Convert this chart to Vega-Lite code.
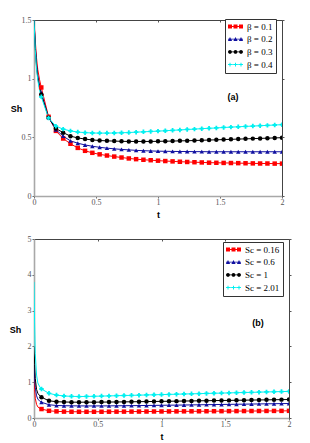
{
  "$schema": "https://vega.github.io/schema/vega-lite/v6.json",
  "background": "white",
  "padding": {"left": 9, "top": 16, "right": 5, "bottom": 2},
  "spacing": 16,
  "config": {
    "view": {"stroke": null},
    "axisBottom": {"domainColor": "#a8a8a8", "domainWidth": 1.6, "tickColor": "#666", "tickSize": 2, "labelFont": "Liberation Serif", "labelFontSize": 8, "labelColor": "#555", "labelPadding": 0, "grid": false, "labelFlush": false, "labelOverlap": false, "titleFont": "Liberation Sans", "titleFontSize": 9, "titleFontWeight": "bold", "titleColor": "#000", "titlePadding": 4, "format": "~g"},
    "axisLeft": {"domainColor": "#a8a8a8", "domainWidth": 1.6, "tickColor": "#666", "tickSize": 2, "labelFont": "Liberation Serif", "labelFontSize": 8, "labelColor": "#555", "labelPadding": 1, "grid": false, "labelFlush": false, "labelOverlap": false, "titleFont": "Liberation Sans", "titleFontSize": 9, "titleFontWeight": "bold", "titleColor": "#000", "titleAngle": 0, "titleAlign": "center", "titleBaseline": "middle", "format": "~g"},
    "axisTop": {"labels": false, "domainColor": "#444", "domainWidth": 1, "tickColor": "#555", "tickSize": -2, "grid": false},
    "axisRight": {"labels": false, "domainColor": "#444", "domainWidth": 1, "tickColor": "#555", "tickSize": 2, "grid": false},
    "legend": {"disable": true, "orient": "none", "padding": 3, "strokeColor": "#333", "fillColor": "#fff", "labelFont": "Liberation Serif", "labelFontSize": 9, "labelColor": "#000", "symbolSize": 4, "labelOffset": 10, "rowPadding": 2.7, "symbolStrokeWidth": 0, "symbolOpacity": 1}
  },
  "resolve": {"scale": {"color": "independent", "shape": "independent", "stroke": "independent"}, "legend": {"color": "independent", "shape": "independent", "stroke": "independent"}},
  "vconcat": [
    {
      "width": 248,
      "height": 176,
      "data": {"values": [
        {"t":0,"Sh":1.5,"s":"β = 0.1"},{"t":0.01,"Sh":1.33,"s":"β = 0.1"},{"t":0.02,"Sh":1.18,"s":"β = 0.1"},{"t":0.03,"Sh":1.08,"s":"β = 0.1"},{"t":0.045,"Sh":0.99,"s":"β = 0.1"},
        {"t":0.0588,"Sh":0.925,"s":"β = 0.1"},{"t":0.1176,"Sh":0.675,"s":"β = 0.1"},{"t":0.1765,"Sh":0.555,"s":"β = 0.1"},{"t":0.2353,"Sh":0.49,"s":"β = 0.1"},{"t":0.2941,"Sh":0.445,"s":"β = 0.1"},{"t":0.3529,"Sh":0.41,"s":"β = 0.1"},{"t":0.4118,"Sh":0.385,"s":"β = 0.1"},{"t":0.4706,"Sh":0.368,"s":"β = 0.1"},{"t":0.5294,"Sh":0.355,"s":"β = 0.1"},{"t":0.5882,"Sh":0.345,"s":"β = 0.1"},{"t":0.6471,"Sh":0.336,"s":"β = 0.1"},{"t":0.7059,"Sh":0.328,"s":"β = 0.1"},{"t":0.7647,"Sh":0.32,"s":"β = 0.1"},{"t":0.8235,"Sh":0.314,"s":"β = 0.1"},{"t":0.8824,"Sh":0.309,"s":"β = 0.1"},{"t":0.9412,"Sh":0.305,"s":"β = 0.1"},{"t":1,"Sh":0.301,"s":"β = 0.1"},{"t":1.0588,"Sh":0.298,"s":"β = 0.1"},{"t":1.1176,"Sh":0.295,"s":"β = 0.1"},{"t":1.1765,"Sh":0.292,"s":"β = 0.1"},{"t":1.2353,"Sh":0.29,"s":"β = 0.1"},{"t":1.2941,"Sh":0.288,"s":"β = 0.1"},{"t":1.3529,"Sh":0.286,"s":"β = 0.1"},{"t":1.4118,"Sh":0.284,"s":"β = 0.1"},{"t":1.4706,"Sh":0.283,"s":"β = 0.1"},{"t":1.5294,"Sh":0.282,"s":"β = 0.1"},{"t":1.5882,"Sh":0.281,"s":"β = 0.1"},{"t":1.6471,"Sh":0.28,"s":"β = 0.1"},{"t":1.7059,"Sh":0.279,"s":"β = 0.1"},{"t":1.7647,"Sh":0.278,"s":"β = 0.1"},{"t":1.8235,"Sh":0.277,"s":"β = 0.1"},{"t":1.8824,"Sh":0.277,"s":"β = 0.1"},{"t":1.9412,"Sh":0.276,"s":"β = 0.1"},{"t":2,"Sh":0.276,"s":"β = 0.1"},
        {"t":0,"Sh":1.5,"s":"β = 0.2"},{"t":0.01,"Sh":1.29,"s":"β = 0.2"},{"t":0.02,"Sh":1.13,"s":"β = 0.2"},{"t":0.03,"Sh":1.03,"s":"β = 0.2"},{"t":0.045,"Sh":0.94,"s":"β = 0.2"},
        {"t":0.0588,"Sh":0.88,"s":"β = 0.2"},{"t":0.1176,"Sh":0.67,"s":"β = 0.2"},{"t":0.1765,"Sh":0.565,"s":"β = 0.2"},{"t":0.2353,"Sh":0.51,"s":"β = 0.2"},{"t":0.2941,"Sh":0.47,"s":"β = 0.2"},{"t":0.3529,"Sh":0.45,"s":"β = 0.2"},{"t":0.4118,"Sh":0.435,"s":"β = 0.2"},{"t":0.4706,"Sh":0.424,"s":"β = 0.2"},{"t":0.5294,"Sh":0.415,"s":"β = 0.2"},{"t":0.5882,"Sh":0.408,"s":"β = 0.2"},{"t":0.6471,"Sh":0.402,"s":"β = 0.2"},{"t":0.7059,"Sh":0.397,"s":"β = 0.2"},{"t":0.7647,"Sh":0.393,"s":"β = 0.2"},{"t":0.8235,"Sh":0.389,"s":"β = 0.2"},{"t":0.8824,"Sh":0.386,"s":"β = 0.2"},{"t":0.9412,"Sh":0.384,"s":"β = 0.2"},{"t":1,"Sh":0.382,"s":"β = 0.2"},{"t":1.0588,"Sh":0.381,"s":"β = 0.2"},{"t":1.1176,"Sh":0.38,"s":"β = 0.2"},{"t":1.1765,"Sh":0.379,"s":"β = 0.2"},{"t":1.2353,"Sh":0.379,"s":"β = 0.2"},{"t":1.2941,"Sh":0.378,"s":"β = 0.2"},{"t":1.3529,"Sh":0.378,"s":"β = 0.2"},{"t":1.4118,"Sh":0.377,"s":"β = 0.2"},{"t":1.4706,"Sh":0.377,"s":"β = 0.2"},{"t":1.5294,"Sh":0.377,"s":"β = 0.2"},{"t":1.5882,"Sh":0.377,"s":"β = 0.2"},{"t":1.6471,"Sh":0.377,"s":"β = 0.2"},{"t":1.7059,"Sh":0.377,"s":"β = 0.2"},{"t":1.7647,"Sh":0.377,"s":"β = 0.2"},{"t":1.8235,"Sh":0.377,"s":"β = 0.2"},{"t":1.8824,"Sh":0.377,"s":"β = 0.2"},{"t":1.9412,"Sh":0.377,"s":"β = 0.2"},{"t":2,"Sh":0.377,"s":"β = 0.2"},
        {"t":0,"Sh":1.5,"s":"β = 0.3"},{"t":0.01,"Sh":1.27,"s":"β = 0.3"},{"t":0.02,"Sh":1.11,"s":"β = 0.3"},{"t":0.03,"Sh":1.01,"s":"β = 0.3"},{"t":0.045,"Sh":0.92,"s":"β = 0.3"},
        {"t":0.0588,"Sh":0.865,"s":"β = 0.3"},{"t":0.1176,"Sh":0.668,"s":"β = 0.3"},{"t":0.1765,"Sh":0.575,"s":"β = 0.3"},{"t":0.2353,"Sh":0.54,"s":"β = 0.3"},{"t":0.2941,"Sh":0.51,"s":"β = 0.3"},{"t":0.3529,"Sh":0.495,"s":"β = 0.3"},{"t":0.4118,"Sh":0.485,"s":"β = 0.3"},{"t":0.4706,"Sh":0.478,"s":"β = 0.3"},{"t":0.5294,"Sh":0.473,"s":"β = 0.3"},{"t":0.5882,"Sh":0.47,"s":"β = 0.3"},{"t":0.6471,"Sh":0.468,"s":"β = 0.3"},{"t":0.7059,"Sh":0.466,"s":"β = 0.3"},{"t":0.7647,"Sh":0.465,"s":"β = 0.3"},{"t":0.8235,"Sh":0.465,"s":"β = 0.3"},{"t":0.8824,"Sh":0.465,"s":"β = 0.3"},{"t":0.9412,"Sh":0.465,"s":"β = 0.3"},{"t":1,"Sh":0.466,"s":"β = 0.3"},{"t":1.0588,"Sh":0.467,"s":"β = 0.3"},{"t":1.1176,"Sh":0.468,"s":"β = 0.3"},{"t":1.1765,"Sh":0.47,"s":"β = 0.3"},{"t":1.2353,"Sh":0.471,"s":"β = 0.3"},{"t":1.2941,"Sh":0.473,"s":"β = 0.3"},{"t":1.3529,"Sh":0.475,"s":"β = 0.3"},{"t":1.4118,"Sh":0.477,"s":"β = 0.3"},{"t":1.4706,"Sh":0.479,"s":"β = 0.3"},{"t":1.5294,"Sh":0.481,"s":"β = 0.3"},{"t":1.5882,"Sh":0.483,"s":"β = 0.3"},{"t":1.6471,"Sh":0.485,"s":"β = 0.3"},{"t":1.7059,"Sh":0.487,"s":"β = 0.3"},{"t":1.7647,"Sh":0.489,"s":"β = 0.3"},{"t":1.8235,"Sh":0.491,"s":"β = 0.3"},{"t":1.8824,"Sh":0.493,"s":"β = 0.3"},{"t":1.9412,"Sh":0.495,"s":"β = 0.3"},{"t":2,"Sh":0.497,"s":"β = 0.3"},
        {"t":0,"Sh":1.5,"s":"β = 0.4"},{"t":0.01,"Sh":1.25,"s":"β = 0.4"},{"t":0.02,"Sh":1.09,"s":"β = 0.4"},{"t":0.03,"Sh":0.99,"s":"β = 0.4"},{"t":0.045,"Sh":0.9,"s":"β = 0.4"},
        {"t":0.0588,"Sh":0.845,"s":"β = 0.4"},{"t":0.1176,"Sh":0.665,"s":"β = 0.4"},{"t":0.1765,"Sh":0.595,"s":"β = 0.4"},{"t":0.2353,"Sh":0.57,"s":"β = 0.4"},{"t":0.2941,"Sh":0.555,"s":"β = 0.4"},{"t":0.3529,"Sh":0.545,"s":"β = 0.4"},{"t":0.4118,"Sh":0.54,"s":"β = 0.4"},{"t":0.4706,"Sh":0.537,"s":"β = 0.4"},{"t":0.5294,"Sh":0.536,"s":"β = 0.4"},{"t":0.5882,"Sh":0.536,"s":"β = 0.4"},{"t":0.6471,"Sh":0.537,"s":"β = 0.4"},{"t":0.7059,"Sh":0.539,"s":"β = 0.4"},{"t":0.7647,"Sh":0.541,"s":"β = 0.4"},{"t":0.8235,"Sh":0.544,"s":"β = 0.4"},{"t":0.8824,"Sh":0.547,"s":"β = 0.4"},{"t":0.9412,"Sh":0.55,"s":"β = 0.4"},{"t":1,"Sh":0.553,"s":"β = 0.4"},{"t":1.0588,"Sh":0.556,"s":"β = 0.4"},{"t":1.1176,"Sh":0.56,"s":"β = 0.4"},{"t":1.1765,"Sh":0.563,"s":"β = 0.4"},{"t":1.2353,"Sh":0.567,"s":"β = 0.4"},{"t":1.2941,"Sh":0.57,"s":"β = 0.4"},{"t":1.3529,"Sh":0.574,"s":"β = 0.4"},{"t":1.4118,"Sh":0.577,"s":"β = 0.4"},{"t":1.4706,"Sh":0.58,"s":"β = 0.4"},{"t":1.5294,"Sh":0.584,"s":"β = 0.4"},{"t":1.5882,"Sh":0.587,"s":"β = 0.4"},{"t":1.6471,"Sh":0.59,"s":"β = 0.4"},{"t":1.7059,"Sh":0.593,"s":"β = 0.4"},{"t":1.7647,"Sh":0.596,"s":"β = 0.4"},{"t":1.8235,"Sh":0.599,"s":"β = 0.4"},{"t":1.8824,"Sh":0.602,"s":"β = 0.4"},{"t":1.9412,"Sh":0.605,"s":"β = 0.4"},{"t":2,"Sh":0.608,"s":"β = 0.4"}
      ]},
      "resolve": {"axis": {"x": "independent", "y": "independent"}},
      "layer": [
        {
          "mark": {"type": "line", "strokeWidth": 1, "clip": true},
          "encoding": {
            "x": {"field": "t", "type": "quantitative", "scale": {"domain": [0, 2], "nice": false}, "axis": {"orient": "bottom", "values": [0, 0.5, 1, 1.5, 2], "title": "t"}},
            "y": {"field": "Sh", "type": "quantitative", "scale": {"domain": [0, 1.5], "nice": false}, "axis": {"orient": "left", "values": [0, 0.5, 1, 1.5], "title": "Sh", "titleX": -18, "titleY": 88}},
            "stroke": {"field": "s", "type": "nominal", "scale": {"domain": ["β = 0.1", "β = 0.2", "β = 0.3", "β = 0.4"], "range": ["#ff0000", "#1010a0", "#000000", "#00f0f0"]}}
          }
        },
        {
          "transform": [{"filter": "datum.t > 0.05"}],
          "mark": {"type": "point", "filled": true, "opacity": 1, "size": 20, "clip": true},
          "encoding": {
            "x": {"field": "t", "type": "quantitative", "axis": {"orient": "top", "values": [0, 0.5, 1, 1.5, 2], "title": null}},
            "y": {"field": "Sh", "type": "quantitative", "axis": {"orient": "right", "values": [0, 0.5, 1, 1.5], "title": null}},
            "color": {"field": "s", "type": "nominal", "scale": {"range": ["#ff0000", "#1010a0", "#000000", "#00f0f0"]}, "legend": {"title": null, "legendX": 191, "legendY": -1, "encode": {"symbols": {"update": {"shape": {"signal": "['M-4.5,-0.4H10.5V0.4H-4.5Z M-4.5,-2h4v4h-4Z M1,-2h4v4h-4Z M6.5,-2h4v4h-4Z','M-4.5,-0.4H10.5V0.4H-4.5Z M-2.5,-2.3L-0.4,1.7H-4.6Z M3,-2.3L5.1,1.7H0.9Z M8.5,-2.3L10.6,1.7H6.4Z','M-4.5,-0.4H10.5V0.4H-4.5Z M-4.4,0a1.9,1.9 0 1,1 3.8,0a1.9,1.9 0 1,1 -3.8,0Z M1.1,0a1.9,1.9 0 1,1 3.8,0a1.9,1.9 0 1,1 -3.8,0Z M6.6,0a1.9,1.9 0 1,1 3.8,0a1.9,1.9 0 1,1 -3.8,0Z','M-4.5,-0.4H10.5V0.4H-4.5Z M-4.3,-0.5h3.6v1h-3.6Z M-3,-1.8h1v3.6h-1Z M1.2,-0.5h3.6v1h-3.6Z M2.5,-1.8h1v3.6h-1Z M6.7,-0.5h3.6v1h-3.6Z M8,-1.8h1v3.6h-1Z'][indexof(['β = 0.1','β = 0.2','β = 0.3','β = 0.4'], datum.value)]"}, "size": {"value": 4}}}}}},
            "shape": {"field": "s", "type": "nominal", "scale": {"domain": ["β = 0.1", "β = 0.2", "β = 0.3", "β = 0.4"], "range": ["square", "triangle-up", "circle", "cross"]}}
          }
        },
        {
          "data": {"values": [{"t": 1.605, "Sh": 0.844, "label": "(a)"}]},
          "mark": {"type": "text", "font": "Liberation Sans", "fontWeight": "bold", "fontSize": 9, "align": "center", "baseline": "middle", "color": "#000"},
          "encoding": {
            "x": {"field": "t", "type": "quantitative", "axis": null},
            "y": {"field": "Sh", "type": "quantitative", "axis": null},
            "text": {"field": "label"}
          }
        }
      ]
    },
    {
      "width": 255,
      "height": 179,
      "data": {"values": [
        {"t":0,"Sh":1.2,"s":"Sc = 0.16"},{"t":0.005,"Sh":0.8,"s":"Sc = 0.16"},{"t":0.01,"Sh":0.55,"s":"Sc = 0.16"},{"t":0.02,"Sh":0.38,"s":"Sc = 0.16"},{"t":0.03,"Sh":0.31,"s":"Sc = 0.16"},{"t":0.045,"Sh":0.27,"s":"Sc = 0.16"},
        {"t":0.0588,"Sh":0.25,"s":"Sc = 0.16"},{"t":0.1176,"Sh":0.2,"s":"Sc = 0.16"},{"t":0.1765,"Sh":0.185,"s":"Sc = 0.16"},{"t":0.2353,"Sh":0.178,"s":"Sc = 0.16"},{"t":0.2941,"Sh":0.175,"s":"Sc = 0.16"},{"t":0.3529,"Sh":0.174,"s":"Sc = 0.16"},{"t":0.4118,"Sh":0.174,"s":"Sc = 0.16"},{"t":0.4706,"Sh":0.174,"s":"Sc = 0.16"},{"t":0.5294,"Sh":0.175,"s":"Sc = 0.16"},{"t":0.5882,"Sh":0.176,"s":"Sc = 0.16"},{"t":0.6471,"Sh":0.177,"s":"Sc = 0.16"},{"t":0.7059,"Sh":0.178,"s":"Sc = 0.16"},{"t":0.7647,"Sh":0.179,"s":"Sc = 0.16"},{"t":0.8235,"Sh":0.18,"s":"Sc = 0.16"},{"t":0.8824,"Sh":0.181,"s":"Sc = 0.16"},{"t":0.9412,"Sh":0.182,"s":"Sc = 0.16"},{"t":1,"Sh":0.183,"s":"Sc = 0.16"},{"t":1.0588,"Sh":0.184,"s":"Sc = 0.16"},{"t":1.1176,"Sh":0.185,"s":"Sc = 0.16"},{"t":1.1765,"Sh":0.186,"s":"Sc = 0.16"},{"t":1.2353,"Sh":0.187,"s":"Sc = 0.16"},{"t":1.2941,"Sh":0.188,"s":"Sc = 0.16"},{"t":1.3529,"Sh":0.189,"s":"Sc = 0.16"},{"t":1.4118,"Sh":0.19,"s":"Sc = 0.16"},{"t":1.4706,"Sh":0.191,"s":"Sc = 0.16"},{"t":1.5294,"Sh":0.192,"s":"Sc = 0.16"},{"t":1.5882,"Sh":0.193,"s":"Sc = 0.16"},{"t":1.6471,"Sh":0.194,"s":"Sc = 0.16"},{"t":1.7059,"Sh":0.195,"s":"Sc = 0.16"},{"t":1.7647,"Sh":0.196,"s":"Sc = 0.16"},{"t":1.8235,"Sh":0.197,"s":"Sc = 0.16"},{"t":1.8824,"Sh":0.198,"s":"Sc = 0.16"},{"t":1.9412,"Sh":0.199,"s":"Sc = 0.16"},{"t":2,"Sh":0.2,"s":"Sc = 0.16"},
        {"t":0,"Sh":1.5,"s":"Sc = 0.6"},{"t":0.005,"Sh":1.1,"s":"Sc = 0.6"},{"t":0.01,"Sh":0.85,"s":"Sc = 0.6"},{"t":0.02,"Sh":0.62,"s":"Sc = 0.6"},{"t":0.03,"Sh":0.53,"s":"Sc = 0.6"},{"t":0.045,"Sh":0.47,"s":"Sc = 0.6"},
        {"t":0.0588,"Sh":0.44,"s":"Sc = 0.6"},{"t":0.1176,"Sh":0.37,"s":"Sc = 0.6"},{"t":0.1765,"Sh":0.35,"s":"Sc = 0.6"},{"t":0.2353,"Sh":0.343,"s":"Sc = 0.6"},{"t":0.2941,"Sh":0.34,"s":"Sc = 0.6"},{"t":0.3529,"Sh":0.338,"s":"Sc = 0.6"},{"t":0.4118,"Sh":0.337,"s":"Sc = 0.6"},{"t":0.4706,"Sh":0.337,"s":"Sc = 0.6"},{"t":0.5294,"Sh":0.338,"s":"Sc = 0.6"},{"t":0.5882,"Sh":0.339,"s":"Sc = 0.6"},{"t":0.6471,"Sh":0.341,"s":"Sc = 0.6"},{"t":0.7059,"Sh":0.343,"s":"Sc = 0.6"},{"t":0.7647,"Sh":0.345,"s":"Sc = 0.6"},{"t":0.8235,"Sh":0.347,"s":"Sc = 0.6"},{"t":0.8824,"Sh":0.35,"s":"Sc = 0.6"},{"t":0.9412,"Sh":0.352,"s":"Sc = 0.6"},{"t":1,"Sh":0.355,"s":"Sc = 0.6"},{"t":1.0588,"Sh":0.358,"s":"Sc = 0.6"},{"t":1.1176,"Sh":0.36,"s":"Sc = 0.6"},{"t":1.1765,"Sh":0.363,"s":"Sc = 0.6"},{"t":1.2353,"Sh":0.366,"s":"Sc = 0.6"},{"t":1.2941,"Sh":0.369,"s":"Sc = 0.6"},{"t":1.3529,"Sh":0.372,"s":"Sc = 0.6"},{"t":1.4118,"Sh":0.375,"s":"Sc = 0.6"},{"t":1.4706,"Sh":0.378,"s":"Sc = 0.6"},{"t":1.5294,"Sh":0.381,"s":"Sc = 0.6"},{"t":1.5882,"Sh":0.384,"s":"Sc = 0.6"},{"t":1.6471,"Sh":0.387,"s":"Sc = 0.6"},{"t":1.7059,"Sh":0.39,"s":"Sc = 0.6"},{"t":1.7647,"Sh":0.393,"s":"Sc = 0.6"},{"t":1.8235,"Sh":0.396,"s":"Sc = 0.6"},{"t":1.8824,"Sh":0.399,"s":"Sc = 0.6"},{"t":1.9412,"Sh":0.402,"s":"Sc = 0.6"},{"t":2,"Sh":0.405,"s":"Sc = 0.6"},
        {"t":0,"Sh":2.0,"s":"Sc = 1"},{"t":0.005,"Sh":1.5,"s":"Sc = 1"},{"t":0.01,"Sh":1.1,"s":"Sc = 1"},{"t":0.02,"Sh":0.8,"s":"Sc = 1"},{"t":0.03,"Sh":0.69,"s":"Sc = 1"},{"t":0.045,"Sh":0.62,"s":"Sc = 1"},
        {"t":0.0588,"Sh":0.58,"s":"Sc = 1"},{"t":0.1176,"Sh":0.48,"s":"Sc = 1"},{"t":0.1765,"Sh":0.455,"s":"Sc = 1"},{"t":0.2353,"Sh":0.447,"s":"Sc = 1"},{"t":0.2941,"Sh":0.443,"s":"Sc = 1"},{"t":0.3529,"Sh":0.442,"s":"Sc = 1"},{"t":0.4118,"Sh":0.442,"s":"Sc = 1"},{"t":0.4706,"Sh":0.443,"s":"Sc = 1"},{"t":0.5294,"Sh":0.444,"s":"Sc = 1"},{"t":0.5882,"Sh":0.446,"s":"Sc = 1"},{"t":0.6471,"Sh":0.448,"s":"Sc = 1"},{"t":0.7059,"Sh":0.45,"s":"Sc = 1"},{"t":0.7647,"Sh":0.453,"s":"Sc = 1"},{"t":0.8235,"Sh":0.456,"s":"Sc = 1"},{"t":0.8824,"Sh":0.459,"s":"Sc = 1"},{"t":0.9412,"Sh":0.462,"s":"Sc = 1"},{"t":1,"Sh":0.465,"s":"Sc = 1"},{"t":1.0588,"Sh":0.468,"s":"Sc = 1"},{"t":1.1176,"Sh":0.471,"s":"Sc = 1"},{"t":1.1765,"Sh":0.474,"s":"Sc = 1"},{"t":1.2353,"Sh":0.477,"s":"Sc = 1"},{"t":1.2941,"Sh":0.48,"s":"Sc = 1"},{"t":1.3529,"Sh":0.483,"s":"Sc = 1"},{"t":1.4118,"Sh":0.486,"s":"Sc = 1"},{"t":1.4706,"Sh":0.489,"s":"Sc = 1"},{"t":1.5294,"Sh":0.492,"s":"Sc = 1"},{"t":1.5882,"Sh":0.495,"s":"Sc = 1"},{"t":1.6471,"Sh":0.498,"s":"Sc = 1"},{"t":1.7059,"Sh":0.501,"s":"Sc = 1"},{"t":1.7647,"Sh":0.504,"s":"Sc = 1"},{"t":1.8235,"Sh":0.507,"s":"Sc = 1"},{"t":1.8824,"Sh":0.51,"s":"Sc = 1"},{"t":1.9412,"Sh":0.513,"s":"Sc = 1"},{"t":2,"Sh":0.516,"s":"Sc = 1"},
        {"t":0,"Sh":3.8,"s":"Sc = 2.01"},{"t":0.005,"Sh":2.6,"s":"Sc = 2.01"},{"t":0.01,"Sh":1.8,"s":"Sc = 2.01"},{"t":0.02,"Sh":1.2,"s":"Sc = 2.01"},{"t":0.03,"Sh":0.98,"s":"Sc = 2.01"},{"t":0.045,"Sh":0.87,"s":"Sc = 2.01"},
        {"t":0.0588,"Sh":0.81,"s":"Sc = 2.01"},{"t":0.1176,"Sh":0.69,"s":"Sc = 2.01"},{"t":0.1765,"Sh":0.64,"s":"Sc = 2.01"},{"t":0.2353,"Sh":0.615,"s":"Sc = 2.01"},{"t":0.2941,"Sh":0.605,"s":"Sc = 2.01"},{"t":0.3529,"Sh":0.6,"s":"Sc = 2.01"},{"t":0.4118,"Sh":0.602,"s":"Sc = 2.01"},{"t":0.4706,"Sh":0.607,"s":"Sc = 2.01"},{"t":0.5294,"Sh":0.612,"s":"Sc = 2.01"},{"t":0.5882,"Sh":0.617,"s":"Sc = 2.01"},{"t":0.6471,"Sh":0.623,"s":"Sc = 2.01"},{"t":0.7059,"Sh":0.628,"s":"Sc = 2.01"},{"t":0.7647,"Sh":0.633,"s":"Sc = 2.01"},{"t":0.8235,"Sh":0.638,"s":"Sc = 2.01"},{"t":0.8824,"Sh":0.644,"s":"Sc = 2.01"},{"t":0.9412,"Sh":0.649,"s":"Sc = 2.01"},{"t":1,"Sh":0.654,"s":"Sc = 2.01"},{"t":1.0588,"Sh":0.659,"s":"Sc = 2.01"},{"t":1.1176,"Sh":0.665,"s":"Sc = 2.01"},{"t":1.1765,"Sh":0.67,"s":"Sc = 2.01"},{"t":1.2353,"Sh":0.675,"s":"Sc = 2.01"},{"t":1.2941,"Sh":0.68,"s":"Sc = 2.01"},{"t":1.3529,"Sh":0.686,"s":"Sc = 2.01"},{"t":1.4118,"Sh":0.691,"s":"Sc = 2.01"},{"t":1.4706,"Sh":0.696,"s":"Sc = 2.01"},{"t":1.5294,"Sh":0.701,"s":"Sc = 2.01"},{"t":1.5882,"Sh":0.707,"s":"Sc = 2.01"},{"t":1.6471,"Sh":0.712,"s":"Sc = 2.01"},{"t":1.7059,"Sh":0.717,"s":"Sc = 2.01"},{"t":1.7647,"Sh":0.722,"s":"Sc = 2.01"},{"t":1.8235,"Sh":0.728,"s":"Sc = 2.01"},{"t":1.8824,"Sh":0.733,"s":"Sc = 2.01"},{"t":1.9412,"Sh":0.738,"s":"Sc = 2.01"},{"t":2,"Sh":0.743,"s":"Sc = 2.01"}
      ]},
      "resolve": {"axis": {"x": "independent", "y": "independent"}},
      "layer": [
        {
          "mark": {"type": "line", "strokeWidth": 1, "clip": true},
          "encoding": {
            "x": {"field": "t", "type": "quantitative", "scale": {"domain": [0, 2], "nice": false}, "axis": {"orient": "bottom", "values": [0, 0.5, 1, 1.5, 2], "title": "t"}},
            "y": {"field": "Sh", "type": "quantitative", "scale": {"domain": [0, 5], "nice": false}, "axis": {"orient": "left", "values": [0, 1, 2, 3, 4, 5], "title": "Sh", "titleX": -19, "titleY": 90}},
            "stroke": {"field": "s", "type": "nominal", "scale": {"domain": ["Sc = 0.16", "Sc = 0.6", "Sc = 1", "Sc = 2.01"], "range": ["#ff0000", "#1010a0", "#000000", "#00f0f0"]}}
          }
        },
        {
          "transform": [{"filter": "datum.t > 0.05"}],
          "mark": {"type": "point", "filled": true, "opacity": 1, "size": 20, "clip": true},
          "encoding": {
            "x": {"field": "t", "type": "quantitative", "axis": {"orient": "top", "values": [0, 0.5, 1, 1.5, 2], "title": null}},
            "y": {"field": "Sh", "type": "quantitative", "axis": {"orient": "right", "values": [0, 1, 2, 3, 4, 5], "title": null}},
            "color": {"field": "s", "type": "nominal", "scale": {"range": ["#ff0000", "#1010a0", "#000000", "#00f0f0"]}, "legend": {"title": null, "legendX": 189, "legendY": 3, "encode": {"symbols": {"update": {"shape": {"signal": "['M-4.5,-0.4H10.5V0.4H-4.5Z M-4.5,-2h4v4h-4Z M1,-2h4v4h-4Z M6.5,-2h4v4h-4Z','M-4.5,-0.4H10.5V0.4H-4.5Z M-2.5,-2.3L-0.4,1.7H-4.6Z M3,-2.3L5.1,1.7H0.9Z M8.5,-2.3L10.6,1.7H6.4Z','M-4.5,-0.4H10.5V0.4H-4.5Z M-4.4,0a1.9,1.9 0 1,1 3.8,0a1.9,1.9 0 1,1 -3.8,0Z M1.1,0a1.9,1.9 0 1,1 3.8,0a1.9,1.9 0 1,1 -3.8,0Z M6.6,0a1.9,1.9 0 1,1 3.8,0a1.9,1.9 0 1,1 -3.8,0Z','M-4.5,-0.4H10.5V0.4H-4.5Z M-4.3,-0.5h3.6v1h-3.6Z M-3,-1.8h1v3.6h-1Z M1.2,-0.5h3.6v1h-3.6Z M2.5,-1.8h1v3.6h-1Z M6.7,-0.5h3.6v1h-3.6Z M8,-1.8h1v3.6h-1Z'][indexof(['Sc = 0.16','Sc = 0.6','Sc = 1','Sc = 2.01'], datum.value)]"}, "size": {"value": 4}}}}}},
            "shape": {"field": "s", "type": "nominal", "scale": {"domain": ["Sc = 0.16", "Sc = 0.6", "Sc = 1", "Sc = 2.01"], "range": ["square", "triangle-up", "circle", "cross"]}}
          }
        },
        {
          "data": {"values": [{"t": 1.757, "Sh": 2.65, "label": "(b)"}]},
          "mark": {"type": "text", "font": "Liberation Sans", "fontWeight": "bold", "fontSize": 9, "align": "center", "baseline": "middle", "color": "#000"},
          "encoding": {
            "x": {"field": "t", "type": "quantitative", "axis": null},
            "y": {"field": "Sh", "type": "quantitative", "axis": null},
            "text": {"field": "label"}
          }
        }
      ]
    }
  ]
}
